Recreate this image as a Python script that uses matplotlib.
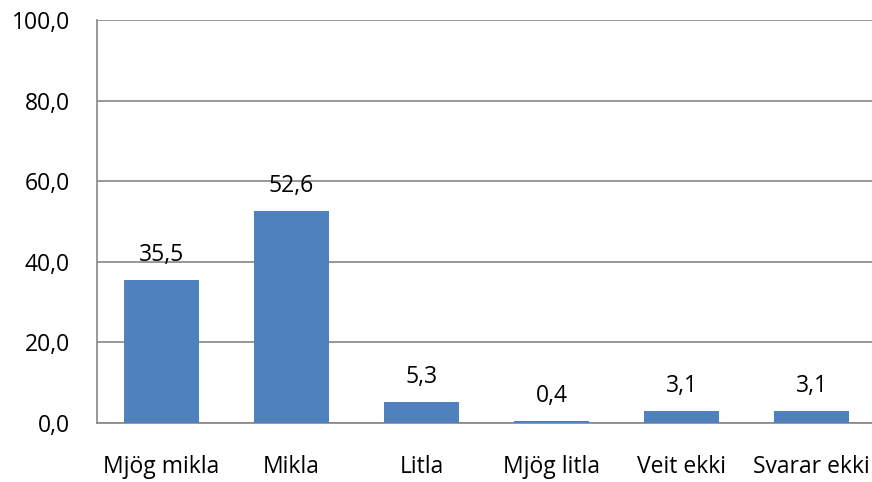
import numpy as np
import matplotlib.pyplot as plt

categories = ['Mjög mikla', 'Mikla', 'Litla', 'Mjög litla', 'Veit ekki', 'Svarar ekki']
values = [35.5, 52.6, 5.3, 0.4, 3.1, 3.1]
yticks = [0, 20, 40, 60, 80, 100]

plt.rcParams['font.family'] = ['Open Sans', 'DejaVu Sans']
fs = 16.5

fig = plt.figure(figsize=(8.72, 4.82), dpi=100)
ax = fig.add_axes([96.5 / 872, 1 - 423 / 482, 780 / 872, 403 / 482])

x = np.arange(len(categories))
bars = ax.bar(x, values, width=0.57, color='#4F81BD', zorder=3)

for xi, v in zip(x, values):
    ax.text(xi, v + 4.7, f'{v:.1f}'.replace('.', ','), ha='center', va='baseline',
            fontsize=fs, color='black')

ax.set_xlim(-0.5, len(categories) - 0.5)
ax.set_ylim(0, 100)
ax.set_yticks(yticks)
ax.set_yticklabels([f'{t:.1f}'.replace('.', ',') for t in yticks], fontsize=fs)
ax.set_xticks(x)
ax.set_xticklabels(categories, fontsize=fs)
ax.tick_params(axis='both', length=0)
ax.tick_params(axis='y', pad=19)
ax.tick_params(axis='x', pad=23)

ax.grid(axis='y', color='#868686', linewidth=1.2, zorder=0)
for s in ['top', 'right']:
    ax.spines[s].set_visible(False)
ax.spines['left'].set_color('#868686')
ax.spines['bottom'].set_color('#868686')
ax.spines['left'].set_linewidth(1.2)
ax.spines['bottom'].set_linewidth(1.2)

fig.savefig('out.png', dpi=100)
